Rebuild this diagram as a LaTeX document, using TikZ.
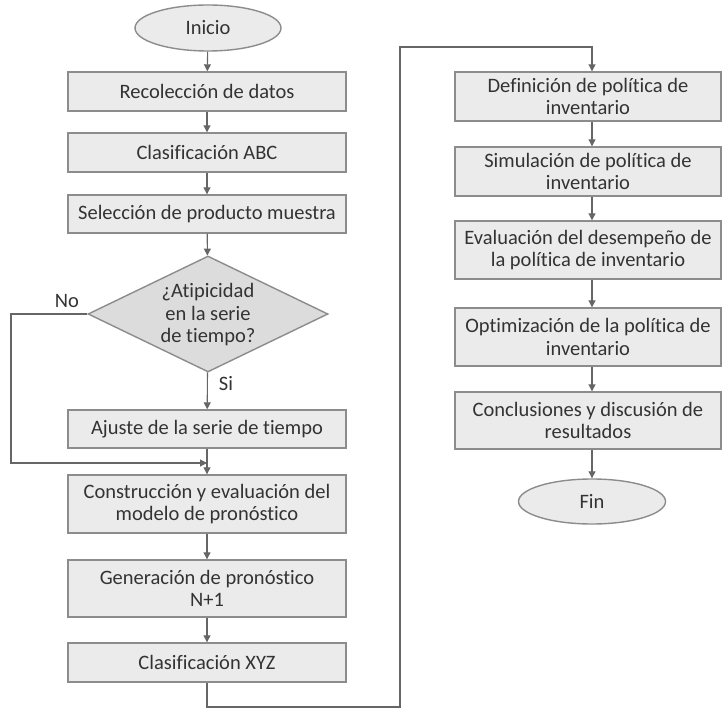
\documentclass[tikz,border=0pt]{standalone}
\usepackage{fontspec}
\setmainfont{Carlito}[Ligatures={NoCommon}]
\usetikzlibrary{shapes.geometric,arrows.meta,calc}
\definecolor{boxfill}{HTML}{EBEBEB}
\definecolor{boxdraw}{HTML}{8C8C8C}
\definecolor{diafill}{HTML}{DCDCDC}
\definecolor{txt}{HTML}{333333}
\definecolor{conn}{HTML}{666666}
\begin{document}
\begin{tikzpicture}[x=1pt,y=-1pt,
  txtstyle/.style={text=txt,font=\fontsize{20.5}{22.5}\selectfont,align=center},
  procbox/.style={txtstyle,rectangle,draw=boxdraw,fill=boxfill,line width=1.4pt,inner sep=0pt,minimum width=278pt},
  rprocbox/.style={procbox,minimum width=266pt},
  termbox/.style={txtstyle,ellipse,draw=boxdraw,fill=boxfill,line width=1.4pt,inner sep=0pt,minimum width=146pt,minimum height=46pt},
  decbox/.style={diamond,draw=boxdraw,fill=diafill,line width=1.4pt,inner sep=0pt,minimum width=240pt,minimum height=116pt},
  conline/.style={draw=conn,line width=1.1pt},
  arr/.style={conline,-{Triangle[width=7pt,length=7pt]},shorten >=0pt}
]
\useasboundingbox (0,0) rectangle (722,708);
\fill[white] (0,0) rectangle (722,708);

% left column
\node[termbox] (ini) at (208,28) {Inicio};
\node[procbox,minimum height=39pt] (rec) at (207,91.5) {Recolección de datos};
\node[procbox,minimum height=39pt] (abc) at (207,152.5) {Clasificación ABC};
\node[procbox,minimum height=38pt] (sel) at (207,214) {Selección de producto muestra};
\node[decbox] (dia) at (208,314) {};
\node[txtstyle] (diatxt) at (208,315) {¿Atipicidad\\en la serie\\de tiempo?};
\node[txtstyle] (no) at (67,301) {No};
\node[txtstyle] (si) at (226,384) {Si};
\node[procbox,minimum height=38pt] (aju) at (207,429) {Ajuste de la serie de tiempo};
\node[procbox,minimum height=58pt] (con) at (207,504) {Construcción y evaluación del\\modelo de pronóstico};
\node[procbox,minimum height=57pt] (gen) at (207,588.5) {Generación de pronóstico\\N+1};
\node[procbox,minimum height=39pt] (xyz) at (207,662.5) {Clasificación XYZ};

% right column
\node[rprocbox,minimum height=49pt] (def) at (588,96.5) {Definición de política de\\inventario};
\node[rprocbox,minimum height=49pt] (sim) at (588,171.5) {Simulación de política de\\inventario};
\node[rprocbox,minimum height=58pt] (eva) at (588,250) {Evaluación del desempeño de\\la política de inventario};
\node[rprocbox,minimum height=58pt] (opt) at (588,337) {Optimización de la política de\\inventario};
\node[rprocbox,minimum height=57pt] (clu) at (588,420.5) {Conclusiones y discusión de\\resultados};
\node[termbox,minimum width=147pt,minimum height=45pt] (fin) at (592,501.5) {Fin};

% helper coordinates
\coordinate (nocorner) at (11,463);
\coordinate (merge) at (207,463);
\coordinate (b1) at (208,707);
\coordinate (b2) at (400,707);
\coordinate (b3) at (400,47);
\coordinate (b4) at (592,47);

% connectors left
\draw[arr] (ini) -- (rec);
\draw[arr] (rec) -- (abc);
\draw[arr] (abc) -- (sel);
\draw[arr] (sel) -- (dia);
\draw[arr] (dia) -- (aju);
\draw[arr] (dia.west) -- (dia.west -| nocorner) -- (nocorner) -- (merge);
\draw[arr] (aju) -- (con);
\draw[arr] (con) -- (gen);
\draw[arr] (gen) -- (xyz);
\draw[arr] (xyz.south) -- (xyz.south |- b1) -- (b2) -- (b3) -- (b4) -- (def.north -| b4);

% connectors right
\draw[arr] (def.south -| b4) -- (sim.north -| b4);
\draw[arr] (sim.south -| b4) -- (eva.north -| b4);
\draw[arr] (eva.south -| b4) -- (opt.north -| b4);
\draw[arr] (opt.south -| b4) -- (clu.north -| b4);
\draw[arr] (clu.south -| b4) -- (fin);
\end{tikzpicture}
\end{document}
